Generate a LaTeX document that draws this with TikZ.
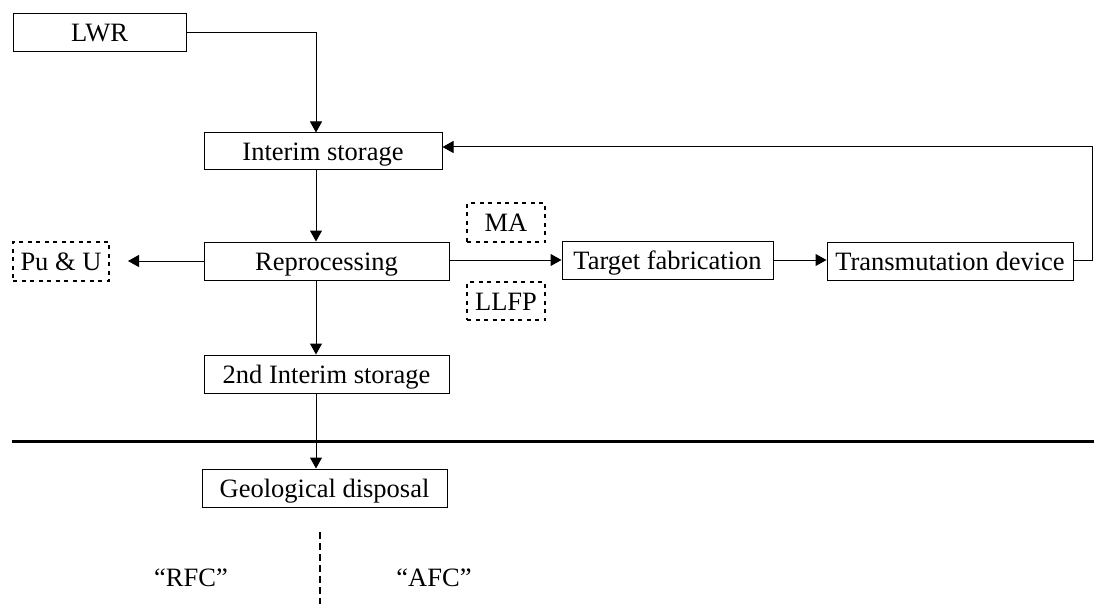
\documentclass[tikz,border=0pt]{standalone}
\usepackage{fontspec}
\setmainfont{Liberation Serif}
\usetikzlibrary{arrows.meta}
\begin{document}
\begin{tikzpicture}[x=1pt,y=-1pt,
  every node/.style={font=\fontsize{26.5}{30}\selectfont, inner sep=0pt, text height=18pt, text depth=-1pt},
  box/.style={draw, line width=1pt, minimum height=38pt},
  dbox/.style={draw, line width=2pt, dash pattern=on 4pt off 4.5pt, minimum height=38pt},
  conn/.style={line width=1pt},
  arr/.style={conn, -{Triangle[length=11pt,width=12pt]}}]
\useasboundingbox (0,0) rectangle (1094,604);
\node[box, minimum width=173pt] (lwr) at (99.5,33) {LWR};
\node[box, minimum width=238pt, minimum height=37pt] (int) at (323,151.5) {Interim storage};
\node[box, minimum width=245pt] (rep) at (326.5,261) {Reprocessing};
\node[dbox, minimum width=96pt, minimum height=39pt] (pu) at (61,261) {Pu \& U};
\node[dbox, minimum width=78pt, minimum height=39pt] (ma) at (506,222.5) {MA};
\node[dbox, minimum width=78pt] (llfp) at (506,301) {LLFP};
\node[box, minimum width=211pt] (tf) at (667.5,260) {Target fabrication};
\node[box, minimum width=246pt] (td) at (950,261) {Transmutation device};
\node[box, minimum width=245pt] (st2) at (326.5,374) {2nd Interim storage};
\node[box, minimum width=245pt] (geo) at (324.5,488) {Geological disposal};
\node (rfc) at (191,577) {“RFC”};
\node (afc) at (434,577) {“AFC”};
\coordinate (sp) at (316,0);
\coordinate (fb) at (1092,147);
\coordinate (hl1) at (12,441);
\coordinate (hl2) at (1094,441);
\coordinate (dv1) at (320,532);
\coordinate (dv2) at (320,604);
\draw[arr] (lwr.east |- 0,33) -| (sp |- int.north);
\draw[arr] (sp |- int.south) -- (sp |- rep.north);
\draw[arr, shorten >=18pt] (rep.west) -- (pu.east);
\draw[arr] (rep.east |- 0,260) -- (tf.west);
\draw[arr] (tf.east) -- (td.west |- tf.east);
\draw[arr] (td.east |- 0,260) -| (fb) -- (int.east |- fb);
\draw[arr] (sp |- rep.south) -- (sp |- st2.north);
\draw[arr] (sp |- st2.south) -- (sp |- geo.north);
\draw[line width=3pt] (hl1) -- (hl2);
\draw[line width=2pt, dash pattern=on 7pt off 4pt] (dv1) -- (dv2);
\end{tikzpicture}
\end{document}
